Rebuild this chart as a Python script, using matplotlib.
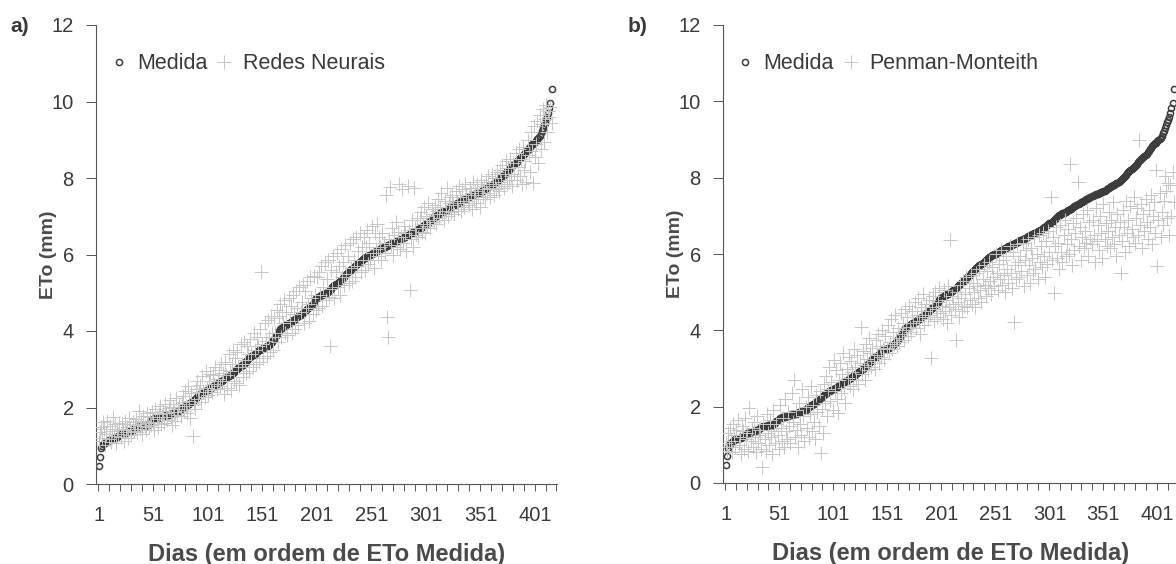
import numpy as np
import matplotlib
matplotlib.use("Agg")
import matplotlib.pyplot as plt

_RC = {
    "font.family": ["Liberation Sans", "DejaVu Sans"],
    "font.size": 14,
    "text.color": "#3a3a3a",
    "axes.labelcolor": "#3a3a3a",
    "xtick.color": "#3a3a3a",
    "ytick.color": "#3a3a3a",
    "axes.edgecolor": "#555555",
    "axes.linewidth": 0.8,
}
plt.rcParams.update(_RC)

# ETo medida (mm), dias em ordem crescente
medida = [
    0.48, 0.70, 0.93, 1.00, 1.05,
    1.06, 1.08, 1.10, 1.12, 1.14, 1.15, 1.16, 1.17, 1.18, 1.19, 1.20, 1.22, 1.24, 1.26, 1.28,
    1.30, 1.31, 1.32, 1.33, 1.34, 1.35, 1.36, 1.37, 1.38, 1.39, 1.40, 1.42, 1.44, 1.46,
    1.48, 1.50, 1.50, 1.50, 1.50, 1.51, 1.51, 1.52, 1.52, 1.52, 1.53, 1.55, 1.58, 1.62,
    1.65, 1.68, 1.70, 1.71, 1.72, 1.72, 1.73, 1.74, 1.75, 1.75, 1.76, 1.77,
    1.78, 1.79, 1.80, 1.80, 1.81, 1.82, 1.83, 1.84, 1.85, 1.86, 1.87, 1.88, 1.89, 1.90, 1.92,
    1.95, 1.98, 2.00, 2.02, 2.04, 2.05, 2.06, 2.08, 2.10, 2.12, 2.15, 2.18, 2.20, 2.22, 2.25, 2.28, 2.30, 2.33,
    2.35, 2.37, 2.39, 2.40, 2.42, 2.43, 2.45, 2.46, 2.48, 2.50, 2.52,
    2.53, 2.55, 2.57, 2.59, 2.61, 2.63, 2.65, 2.67, 2.68, 2.70, 2.72,
    2.74, 2.76, 2.78, 2.80, 2.82, 2.84, 2.86, 2.88, 2.90, 2.93, 2.96,
    2.98, 3.00, 3.02, 3.05, 3.08, 3.10, 3.12, 3.15, 3.18, 3.20, 3.24, 3.27,
    3.29, 3.31, 3.34, 3.36, 3.38, 3.40, 3.42, 3.45, 3.48,
    3.50, 3.51, 3.52, 3.54, 3.55, 3.57, 3.58, 3.60, 3.62, 3.64, 3.66, 3.68, 3.72,
    3.76, 3.80, 3.85, 3.90, 3.95, 4.00, 4.05, 4.07, 4.08, 4.10, 4.12, 4.14,
    4.16, 4.18, 4.20, 4.22, 4.24, 4.26, 4.28, 4.30, 4.32, 4.34, 4.36, 4.38, 4.40, 4.42, 4.45, 4.48,
    4.50, 4.52, 4.55, 4.58, 4.60, 4.62, 4.64, 4.66, 4.70, 4.75, 4.80, 4.85,
    4.87, 4.88, 4.90, 4.92, 4.93, 4.95, 4.96, 4.98, 5.00, 5.01, 5.03, 5.05,
    5.08, 5.11, 5.14, 5.17, 5.20, 5.22, 5.24, 5.26, 5.28, 5.30, 5.33, 5.36, 5.39, 5.42, 5.46, 5.50,
    5.53, 5.56, 5.58, 5.61, 5.63, 5.65, 5.68, 5.70, 5.72, 5.75, 5.77, 5.80, 5.82, 5.85, 5.88,
    5.90, 5.92, 5.93, 5.95, 5.97, 5.98, 6.00, 6.01, 6.03, 6.04, 6.06, 6.08, 6.10,
    6.11, 6.13, 6.14, 6.16, 6.17, 6.19, 6.20, 6.21, 6.23, 6.24, 6.26, 6.27, 6.28, 6.30, 6.31, 6.32, 6.34, 6.36,
    6.37, 6.38, 6.40, 6.41, 6.43, 6.44, 6.46, 6.47, 6.49, 6.50, 6.52, 6.53, 6.55, 6.56, 6.58, 6.59, 6.61, 6.62, 6.64,
    6.66, 6.68, 6.70, 6.72, 6.74, 6.76, 6.78, 6.80, 6.82, 6.84, 6.86, 6.88, 6.91, 6.94, 6.97,
    6.99, 7.01, 7.03, 7.05, 7.07, 7.08, 7.10, 7.11, 7.13, 7.14, 7.16, 7.17, 7.19, 7.21, 7.23,
    7.25, 7.27, 7.28, 7.30, 7.32, 7.34, 7.35, 7.37, 7.38, 7.40, 7.42, 7.43, 7.45, 7.46, 7.48, 7.50,
    7.51, 7.52, 7.54, 7.55, 7.56, 7.57, 7.58, 7.59, 7.60, 7.62, 7.63, 7.64, 7.66, 7.68, 7.70,
    7.72, 7.74, 7.75, 7.77, 7.79, 7.80, 7.82, 7.84, 7.85, 7.87, 7.89, 7.91, 7.93,
    7.96, 7.99, 8.02, 8.05, 8.08, 8.11, 8.14, 8.17, 8.20, 8.22, 8.25, 8.28,
    8.31, 8.34, 8.37, 8.40, 8.43, 8.46, 8.49, 8.51, 8.54, 8.57, 8.60, 8.63,
    8.66, 8.70, 8.74, 8.78, 8.82, 8.85, 8.88, 8.90, 8.92, 8.95, 8.98, 9.01, 9.05,
    9.10, 9.16, 9.22, 9.30, 9.38, 9.45, 9.52, 9.60, 9.70, 9.83, 9.95, 10.32,
]

# ETo estimada por redes neurais (mm)
redes_neurais = [
    1.12, 1.35, 1.48, 1.20, 1.62,
    1.45, 1.02, 1.30, 1.66, 1.18, 1.52, 1.10, 1.38, 1.74, 1.25, 1.56, 1.08, 1.44, 1.31, 1.60,
    1.22, 1.58, 1.41, 1.12, 1.66, 1.35, 1.50, 1.20, 1.72, 1.44, 1.28, 1.62, 1.38, 1.55,
    1.70, 1.36, 1.58, 1.92, 1.45, 1.64, 1.30, 1.78, 1.52, 1.40, 1.85, 1.60, 1.48, 1.75,
    1.55, 1.88, 1.62, 1.42, 1.95, 1.70, 1.50, 1.82, 2.05, 1.58, 1.76, 1.92,
    1.60, 2.10, 1.85, 1.68, 1.98, 2.20, 1.74, 1.55, 2.02, 1.88, 1.66, 2.25, 1.80, 1.95, 2.08,
    1.78, 2.15, 2.30, 1.90, 2.42, 2.05, 1.85, 2.55, 2.18, 1.72, 2.38, 1.25, 2.10, 1.95, 2.48, 2.70, 2.22, 2.40,
    2.60, 2.15, 2.82, 2.40, 2.28, 2.95, 2.50, 2.32, 2.70, 2.88, 2.45,
    2.40, 2.85, 2.62, 3.05, 2.48, 2.75, 2.98, 2.55, 3.15, 2.68, 2.90,
    2.35, 3.20, 2.85, 2.50, 3.40, 2.95, 2.45, 3.15, 3.50, 2.70, 3.30,
    2.65, 3.45, 3.05, 2.60, 3.65, 3.15, 2.80, 3.70, 3.25, 2.90, 3.60, 3.40,
    2.95, 3.80, 3.40, 3.05, 3.95, 3.50, 3.15, 3.85, 3.60,
    3.20, 4.05, 5.55, 3.65, 3.30, 4.20, 3.75, 3.35, 4.30, 3.85, 3.45, 4.40, 3.95,
    3.50, 4.35, 3.95, 4.55, 3.70, 4.40, 4.70, 3.85, 4.50, 4.20, 4.80, 3.95,
    4.50, 3.90, 4.85, 4.25, 4.65, 3.95, 4.95, 4.45, 4.05, 5.05, 4.60, 4.15, 5.15, 4.50, 4.75, 5.20,
    4.20, 5.05, 4.60, 5.30, 4.70, 4.25, 5.40, 4.85, 4.45, 5.45, 4.95, 4.55,
    5.40, 4.60, 5.55, 4.95, 5.70, 4.65, 5.15, 5.80, 4.80, 5.35, 5.85, 4.90,
    3.60, 5.60, 5.10, 5.95, 4.85, 5.55, 6.05, 5.15, 5.70, 4.95, 6.15, 5.40, 5.80, 5.20, 6.25, 5.50,
    5.95, 5.25, 6.30, 5.65, 5.30, 6.40, 5.85, 5.40, 6.45, 5.70, 6.10, 6.55, 5.55, 6.20, 5.85,
    6.45, 5.60, 6.20, 6.65, 5.75, 6.30, 5.85, 6.75, 6.05, 5.65, 6.55, 6.15, 6.80,
    5.95, 6.45, 6.20, 5.85, 6.55, 6.30, 6.05, 7.55, 4.37, 3.85, 6.40, 7.77, 6.25, 6.70, 6.00, 6.50, 6.85, 6.20,
    6.60, 7.85, 6.15, 6.45, 7.70, 6.30, 6.75, 6.55, 6.10, 7.80, 6.65, 5.07, 6.40, 6.90, 6.20, 7.75, 6.70, 6.50, 6.95,
    6.45, 6.95, 7.10, 6.60, 6.80, 7.25, 6.55, 7.00, 6.75, 7.35, 6.90, 6.70, 7.20, 7.05, 6.85,
    7.30, 6.80, 7.15, 7.45, 6.95, 7.25, 7.60, 7.05, 6.90, 7.40, 7.15, 7.75, 7.00, 7.35, 7.50,
    7.10, 7.55, 7.30, 7.05, 7.65, 7.40, 7.20, 7.80, 7.50, 7.15, 7.70, 7.35, 7.25, 7.85, 7.55, 7.40,
    7.30, 7.75, 7.60, 7.20, 7.90, 7.45, 7.65, 7.35, 7.85, 7.55, 7.25, 7.95, 7.70, 7.50, 7.80,
    7.45, 7.90, 7.60, 8.05, 7.75, 7.50, 8.10, 7.85, 7.55, 8.00, 7.70, 8.15, 7.80,
    7.65, 8.20, 7.90, 8.35, 7.75, 8.10, 8.45, 7.85, 8.25, 7.95, 8.50, 8.05,
    7.80, 8.40, 8.10, 8.65, 7.95, 8.30, 8.75, 8.05, 8.50, 7.85, 8.80, 8.20,
    8.45, 7.90, 9.00, 8.60, 8.15, 9.20, 8.70, 7.87, 9.35, 8.55, 8.90, 9.50, 8.40,
    9.65, 8.75, 9.40, 9.80, 8.95, 9.55, 9.90, 9.20, 9.75, 9.60, 9.85, 9.45,
]

# ETo estimada por Penman-Monteith (mm)
penman_monteith = [
    1.05, 0.85, 1.30, 0.95, 1.45,
    1.10, 0.80, 1.55, 1.25, 0.95, 1.40, 1.65, 1.00, 1.20, 0.75, 1.50, 1.35, 0.90, 1.70, 1.15,
    1.30, 0.85, 1.96, 1.10, 1.45, 0.95, 1.60, 1.20, 0.80, 1.75, 1.05, 1.40, 1.25, 0.90,
    0.43, 1.55, 1.15, 0.85, 1.80, 1.30, 1.00, 1.65, 1.20, 0.75, 1.90, 1.35, 1.05, 1.55,
    1.25, 0.90, 2.05, 1.45, 1.10, 1.70, 0.95, 2.20, 1.35, 1.15, 1.85, 1.50,
    1.05, 2.35, 1.60, 2.70, 1.20, 1.90, 1.40, 0.95, 2.10, 1.55, 1.25, 2.45, 1.75, 1.10, 2.00,
    1.45, 2.25, 1.20, 1.80, 2.55, 1.35, 2.05, 1.60, 1.15, 2.30, 1.85, 1.50, 2.40, 0.78, 1.95, 1.30, 2.60, 2.10,
    2.80, 1.75, 2.45, 3.05, 2.15, 2.65, 1.90, 3.22, 2.40, 2.95, 2.20,
    1.83, 2.70, 3.15, 2.35, 2.85, 3.40, 2.50, 2.10, 3.00, 2.75, 3.30,
    2.55, 3.20, 2.90, 2.45, 3.50, 3.05, 2.70, 3.35, 2.60, 3.15, 4.09,
    2.85, 3.45, 3.10, 2.70, 3.65, 3.25, 2.95, 3.80, 3.40, 3.05, 3.55, 3.20,
    3.00, 3.75, 3.35, 3.90, 3.15, 3.60, 3.30, 4.00, 3.50,
    3.25, 3.85, 3.55, 4.15, 3.40, 3.70, 4.30, 3.50, 3.95, 3.65, 4.40, 3.80, 3.60,
    4.05, 3.70, 4.45, 3.90, 4.20, 3.75, 4.55, 4.00, 4.35, 3.85, 4.65, 4.10,
    3.95, 4.50, 4.20, 4.75, 4.05, 4.40, 4.85, 4.25, 3.90, 4.60, 4.35, 4.95, 4.15, 4.50, 4.70, 4.30,
    4.80, 4.40, 3.27, 4.60, 4.90, 4.25, 5.00, 4.55, 4.35, 4.75, 5.10, 4.45,
    4.65, 4.30, 5.05, 4.50, 4.80, 4.20, 5.15, 4.60, 6.36, 4.40, 4.90, 4.70,
    4.55, 3.74, 5.00, 4.75, 4.35, 5.20, 4.85, 4.50, 5.30, 4.65, 4.95, 5.40, 4.60, 5.10, 4.80, 5.45,
    4.70, 5.25, 5.00, 4.60, 5.50, 5.15, 4.85, 5.60, 5.05, 4.75, 5.35, 5.70, 5.20, 4.90, 5.55,
    5.10, 5.80, 5.30, 4.95, 5.65, 5.40, 5.15, 6.00, 5.50, 5.05, 5.75, 5.35, 6.10,
    5.20, 5.85, 5.45, 5.00, 5.95, 5.60, 5.25, 6.20, 5.50, 5.10, 6.05, 4.22, 5.70, 5.35, 6.25, 5.80, 5.40, 5.95,
    5.55, 6.30, 5.15, 5.85, 6.10, 5.45, 6.40, 5.70, 5.25, 6.15, 5.90, 5.50, 6.45, 5.60, 6.00, 5.35, 6.50, 5.80, 6.20,
    5.65, 6.55, 5.95, 5.40, 6.35, 5.75, 6.60, 6.05, 7.50, 5.85, 6.45, 4.97, 6.20, 6.70, 5.90,
    6.30, 5.60, 6.75, 6.05, 5.80, 6.50, 6.90, 5.95, 6.25, 6.65, 6.00, 8.35, 6.40, 5.70, 6.80,
    6.10, 6.55, 6.95, 7.88, 6.20, 6.70, 5.85, 6.45, 7.05, 6.15, 6.60, 6.30, 7.15, 5.95, 6.85, 6.40,
    6.25, 6.90, 6.50, 5.80, 7.20, 6.35, 6.75, 6.10, 7.00, 6.55, 5.90, 7.30, 6.40, 6.80, 6.20,
    6.60, 7.10, 6.15, 6.90, 6.45, 7.35, 6.25, 6.70, 5.95, 7.05, 6.50, 6.85, 5.50,
    6.35, 7.15, 6.70, 6.05, 7.40, 6.55, 6.90, 6.20, 7.25, 6.65, 6.45, 7.50,
    6.30, 6.95, 7.20, 6.50, 9.00, 6.75, 7.30, 6.15, 7.05, 6.60, 7.45, 6.85,
    6.40, 7.15, 6.70, 7.55, 6.25, 7.00, 7.35, 6.55, 8.20, 5.68, 6.90, 7.60, 6.45,
    7.10, 6.75, 7.40, 8.05, 7.65, 6.95, 7.85, 6.50, 7.80, 7.00, 8.15, 7.35,
]

dias = np.arange(1, len(medida) + 1)
x_labels = [1, 51, 101, 151, 201, 251, 301, 351, 401]
y_ticks = [0, 2, 4, 6, 8, 10, 12]

TXT = "#3a3a3a"
CIRC = "#3c3c3c"
CROSS = "#c6c6c6"
W, H = 1176, 564


def _panel(ax, pred, pred_label):
    ax.plot(dias, medida, ls="none", marker="o", ms=4.4, mfc="none",
            mec=CIRC, mew=1.1, label="Medida", zorder=2)
    ax.plot(dias, pred, ls="none", marker="+", ms=10, mew=0.7,
            color=CROSS, label=pred_label, zorder=3)

    ax.set_xlim(-1.5, 421)
    ax.set_ylim(0, 12)
    ax.set_yticks(y_ticks)
    ax.set_xticks(x_labels)
    ax.set_xticks(np.arange(0.5, 421, 10), minor=True)
    ax.tick_params(axis="x", which="major", length=0, pad=16, labelsize=14.5)
    ax.tick_params(axis="x", which="minor", length=5, width=0.7,
                   direction="out", color="#555555")
    ax.tick_params(axis="y", length=7, width=0.7, pad=9, labelsize=14.5,
                   color="#555555")

    for s in ("top", "right"):
        ax.spines[s].set_visible(False)

    ax.set_xlabel("Dias (em ordem de ETo Medida)", fontsize=17,
                  fontweight="bold", color="#4a4a4a", labelpad=13)
    ax.set_ylabel("ETo (mm)", fontsize=14, fontweight="bold",
                  color="#4a4a4a", labelpad=-4)

    ax.legend(loc="upper left", bbox_to_anchor=(0.035, 0.938), ncol=2,
              frameon=False, fontsize=15.5, handlelength=0.6,
              handletextpad=0.55, columnspacing=0.5, borderpad=0,
              borderaxespad=0)


fig = plt.figure(figsize=(W / 100, H / 100), dpi=100)
ax_a = fig.add_axes([96 / W, (H - 484) / H, 461 / W, 459 / H])
ax_b = fig.add_axes([723 / W, (H - 483) / H, 456 / W, 458 / H])

_panel(ax_a, redes_neurais, "Redes Neurais")
_panel(ax_b, penman_monteith, "Penman-Monteith")

for tag, xp in (("a)", 10), ("b)", 628)):
    fig.text(xp / W, 1 - 26 / H, tag, fontsize=15, fontweight="bold",
             color=TXT, ha="left", va="center")

fig.savefig("out.png", dpi=100, facecolor="white")
